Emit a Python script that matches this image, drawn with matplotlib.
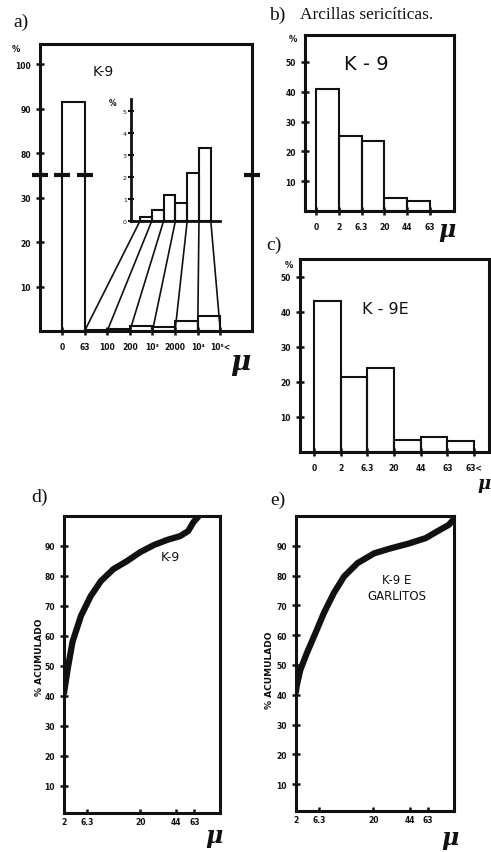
import numpy as np
import matplotlib.pyplot as plt
from matplotlib.patches import ConnectionPatch

# a) K-9, whole sample (% per size class, micrometres)
a_edges = ["0", "63", "100", "200", "10³", "2000", "10⁴", "10⁵<"]
a_vals = [91.5, 0.2, 0.5, 1.2, 0.8, 2.2, 3.3]
a_yticks = [10, 20, 30, 80, 90, 100]
inset_yticks = [0, 1, 2, 3, 4, 5]

# b) K-9 clay fraction
b_edges = ["0", "2", "6.3", "20", "44", "63"]
b_vals = [41, 25, 23.5, 4.5, 3.5]

# c) K-9E clay fraction
c_edges = ["0", "2", "6.3", "20", "44", "63", "63<"]
c_vals = [43, 21.5, 24, 3.5, 4.2, 3.2]

# d) / e) cumulative curves
cum_ticks = [2, 6.3, 20, 44, 63]
d_size = [2, 2.2, 2.7, 3.6, 5.2, 7.3, 9.9, 13.1, 16.6, 20, 28.9, 37.7, 48, 56.6, 62.2, 68.6]
d_cum = [41, 43.3, 49, 58, 66.7, 73.3, 78.3, 82.3, 85, 88, 90.3, 92, 93.3, 95, 98, 99.7]
e_size = [2, 2.1, 2.8, 4.0, 5.6, 7.5, 10, 12.6, 16, 20.6, 31.8, 43, 60.8, 75.9, 92.5, 100]
e_cum = [41, 42.7, 48.3, 53.9, 60.6, 67.4, 74.1, 79.7, 84.2, 87.5, 89.2, 90.7, 92.6, 94.8, 97, 99]

# hand drawn size axis of d) and e)
scale_vals = [2, 6.3, 20, 44, 63, 100]
scale_frac = [0, 0.146, 0.49, 0.72, 0.835, 1.0]

W, H = 491, 853
INK = "#111111"
SERIF = "Liberation Serif"


def rect(l, t, r, b):
    return [l / W, 1 - b / H, (r - l) / W, (b - t) / H]


def ftext(x, y, s, **kw):
    fig.text(x / W, 1 - y / H, s, color=INK, **kw)


def mu(x, y, size=17):
    ftext(x, y, "μ", fontsize=size, family="DejaVu Serif", style="italic",
          fontweight="bold", ha="center", va="center")


def broken(v):
    # axis of a) skips 30..70
    v = np.asarray(v, dtype=float)
    return np.where(v <= 30, v, v - 40)


def frame(ax, lw=2.2):
    for s in ax.spines.values():
        s.set_linewidth(lw)
        s.set_color(INK)
    ax.tick_params(axis="both", colors=INK, width=1.8, length=6, direction="inout",
                   labelsize=5.5)
    for lab in ax.get_xticklabels() + ax.get_yticklabels():
        lab.set_fontweight("bold")


def histogram(ax, edges, vals, yticks):
    x = np.arange(len(vals))
    ax.bar(x, vals, width=1, align="edge", fill=False, edgecolor=INK, linewidth=1.5)
    ax.set_xticks(np.arange(len(edges)))
    ax.set_xticklabels(edges)
    ax.set_yticks(yticks)
    ax.set_yticklabels([str(t) for t in yticks])
    ax.tick_params(axis="x", length=0, pad=5)
    frame(ax)


fig = plt.figure(figsize=(W / 100, H / 100), dpi=100)

# ---------- a)
ax_a = fig.add_axes(rect(40, 45, 252, 332))
histogram(ax_a, a_edges, broken(a_vals), broken(a_yticks))
ax_a.set_yticklabels([str(t) for t in a_yticks], fontweight="bold")
ax_a.set_xlim(-0.97, 8.4)
ax_a.set_ylim(0, 64.5)
ax_a.plot([-0.97, 0, 1, 8.4], [35] * 4, ls="none", marker="_", ms=11, mew=3,
          color=INK, clip_on=False)

ax_in = fig.add_axes(rect(131, 100, 220, 222))
ax_in.patch.set_alpha(0)
ax_in.bar(np.arange(len(a_vals) - 1), a_vals[1:], width=1, align="edge", fill=False,
          edgecolor=INK, linewidth=1.5)
ax_in.set_xlim(-0.76, 6.78)
ax_in.set_ylim(0, 5.55)
ax_in.spines[["top", "right"]].set_visible(False)
for s in ["left", "bottom"]:
    ax_in.spines[s].set_linewidth(2)
    ax_in.spines[s].set_color(INK)
ax_in.set_xticks([])
ax_in.set_yticks(inset_yticks)
ax_in.tick_params(axis="y", direction="inout", length=4, width=1.5, labelsize=4.5,
                  pad=1, colors=INK)
for i in range(len(a_vals)):
    con = ConnectionPatch(xyA=(i, 0), coordsA=ax_in.transData,
                          xyB=(i + 1, 0), coordsB=ax_a.transData,
                          color=INK, linewidth=1.2)
    fig.add_artist(con)

ftext(21, 22, "a)", fontsize=14, family=SERIF, ha="center", va="center")
ftext(16, 50, "%", fontsize=6, fontweight="bold", ha="center", va="center")
ftext(113, 104, "%", fontsize=5.5, fontweight="bold", ha="center", va="center")
ftext(103, 72, "K-9", fontsize=10, ha="center", va="center")
mu(240, 362, 20)

# ---------- b)
ax_b = fig.add_axes(rect(305, 36, 454, 212))
histogram(ax_b, b_edges, b_vals, [10, 20, 30, 40, 50])
ax_b.set_xlim(-0.48, 6.05)
ax_b.set_ylim(0, 59)
ftext(277, 15, "b)", fontsize=14, family=SERIF, ha="center", va="center")
ftext(300, 15, "Arcillas sericíticas.", fontsize=12.5, family=SERIF, ha="left",
      va="center")
ftext(293, 40, "%", fontsize=6, fontweight="bold", ha="center", va="center")
ftext(366, 65, "K - 9", fontsize=14, ha="center", va="center")
mu(447, 230)

# ---------- c)
ax_c = fig.add_axes(rect(300, 260, 489, 453))
histogram(ax_c, c_edges, c_vals, [10, 20, 30, 40, 50])
ax_c.set_xlim(-0.52, 6.56)
ax_c.set_ylim(0, 55)
ftext(274, 245, "c)", fontsize=14, family=SERIF, ha="center", va="center")
ftext(289, 266, "%", fontsize=6, fontweight="bold", ha="center", va="center")
ftext(385, 310, "K - 9E", fontsize=11.5, ha="center", va="center")
mu(484, 484, 13)


# ---------- d) and e)
def fwd(x):
    return np.interp(x, scale_vals, scale_frac)


def inv(f):
    return np.interp(f, scale_frac, scale_vals)


def cumulative(ax, size, cum):
    ax.set_xscale("function", functions=(fwd, inv))
    ax.plot(size, cum, color=INK, lw=4.5, solid_capstyle="round",
            solid_joinstyle="round")
    ax.set_xlim(2, 100)
    ax.set_ylim(1, 100)
    ax.set_xticks(cum_ticks)
    ax.set_xticklabels([str(t) for t in cum_ticks])
    ax.set_yticks(range(10, 100, 10))
    ax.set_yticklabels([str(t) for t in range(10, 100, 10)])
    ax.xaxis.set_minor_locator(plt.NullLocator())
    frame(ax)
    ax.tick_params(axis="x", direction="in", length=3, pad=3)


ax_d = fig.add_axes(rect(64, 517, 220, 814))
cumulative(ax_d, d_size, d_cum)
ftext(40, 497, "d)", fontsize=14, family=SERIF, ha="center", va="center")
ftext(40, 657, "% ACUMULADO", fontsize=6.5, fontweight="bold", rotation=90,
      ha="center", va="center")
ftext(170, 558, "K-9", fontsize=9, ha="center", va="center")
mu(214, 836)

ax_e = fig.add_axes(rect(296, 517, 454, 812))
cumulative(ax_e, e_size, e_cum)
ftext(278, 500, "e)", fontsize=14, family=SERIF, ha="center", va="center")
ftext(270, 670, "% ACUMULADO", fontsize=6.5, fontweight="bold", rotation=90,
      ha="center", va="center")
ftext(397, 580, "K-9 E", fontsize=8.5, ha="center", va="center")
ftext(397, 596, "GARLITOS", fontsize=8.5, ha="center", va="center")
mu(450, 838)

fig.savefig("out.png", dpi=100, facecolor="white")
